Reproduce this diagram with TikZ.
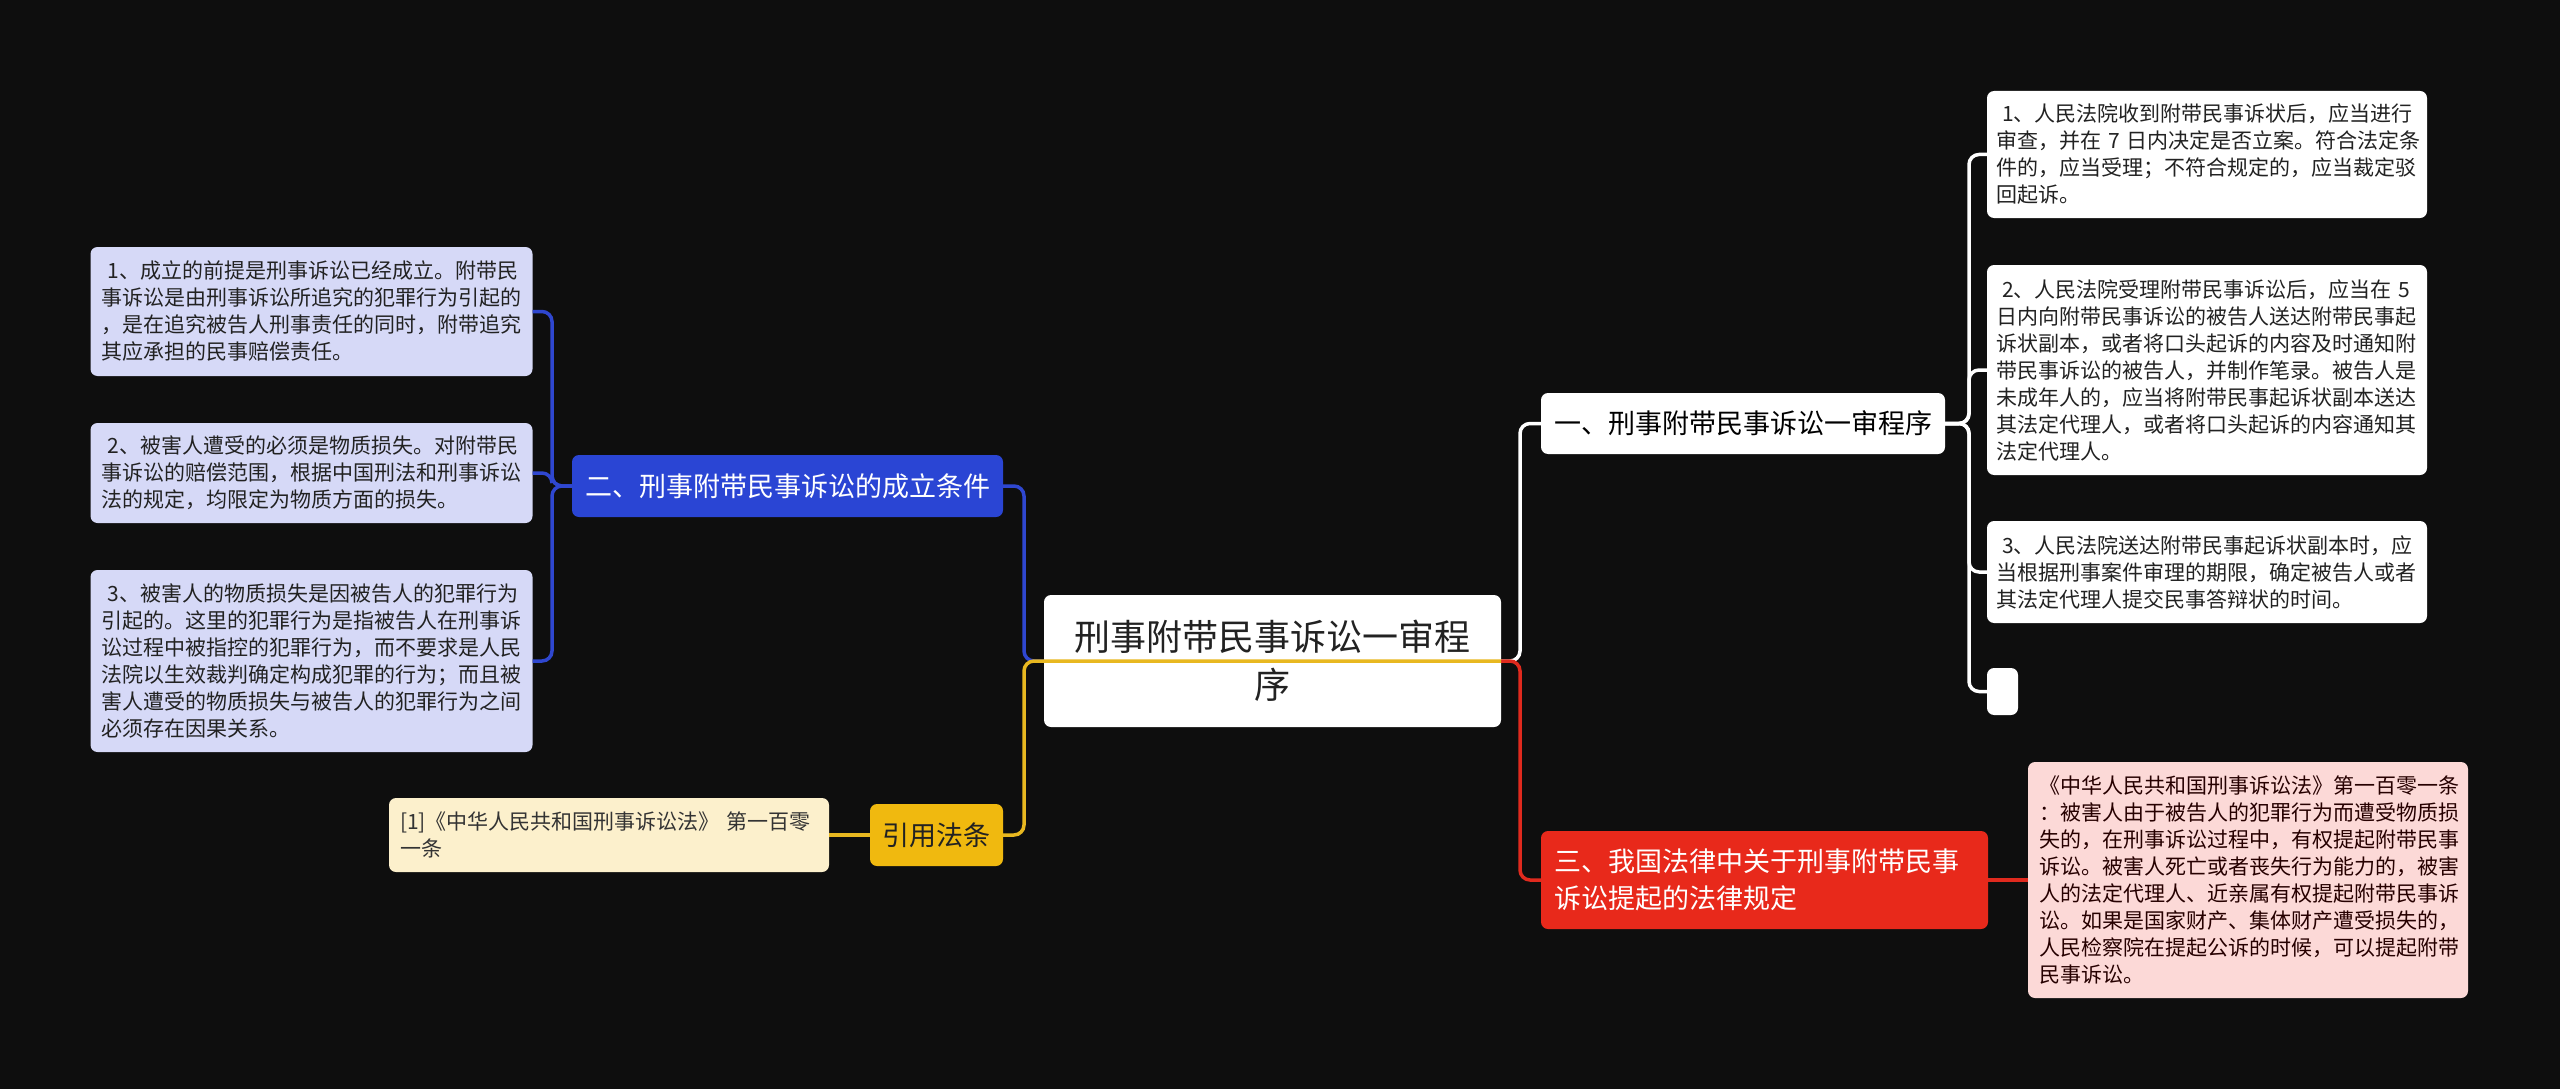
\documentclass[tikz,border=0pt]{standalone}
\usepackage{fontspec}
\setmainfont{Noto Sans CJK SC}
\definecolor{bgc}{HTML}{0E0E0E}
\definecolor{bluen}{HTML}{2A45D4}
\definecolor{bluel}{HTML}{2F47D0}
\definecolor{lav}{HTML}{D6D9F7}
\definecolor{yeln}{HTML}{F0B90F}
\definecolor{yell}{HTML}{E8B820}
\definecolor{citef}{HTML}{FCF0CC}
\definecolor{redn}{HTML}{E8291B}
\definecolor{redl}{HTML}{E02A1E}
\definecolor{pinkf}{HTML}{FCD9D7}
\definecolor{txtd}{HTML}{222222}
\begin{document}
\begin{tikzpicture}[x=1pt,y=-1pt,
  every node/.style={inner sep=0pt, outer sep=0pt},
  card/.style={rectangle, rounded corners=7pt, align=left, inner xsep=11pt,
    font=\fontsize{21}{27}\selectfont, text=txtd},
  topic/.style={rectangle, rounded corners=7pt, align=center,
    font=\fontsize{27}{37}\selectfont},
  conn/.style={line width=3.5pt, rounded corners=10pt},
  bline/.style={conn, draw=bluel},
  yline/.style={conn, draw=yell},
  rline/.style={conn, draw=redl},
  wline/.style={conn, draw=white}]
\fill[bgc] (0,0) rectangle (2560,1089);
\useasboundingbox (0,0) rectangle (2560,1089);

% left detail cards
\node[card, fill=lav, text width=420pt, minimum height=129pt] (L1) at (311.5,311.5)
 {\hspace{0.3em}1、成立的前提是刑事诉讼已经成立。附带民\\事诉讼是由刑事诉讼所追究的犯罪行为引起的\\，是在追究被告人刑事责任的同时，附带追究\\其应承担的民事赔偿责任。};
\node[card, fill=lav, text width=420pt, minimum height=100pt] (L2) at (311.5,473)
 {\hspace{0.3em}2、被害人遭受的必须是物质损失。对附带民\\事诉讼的赔偿范围，根据中国刑法和刑事诉讼\\法的规定，均限定为物质方面的损失。};
\node[card, fill=lav, text width=420pt, minimum height=182pt] (L3) at (311.5,661)
 {\hspace{0.3em}3、被害人的物质损失是因被告人的犯罪行为\\引起的。这里的犯罪行为是指被告人在刑事诉\\讼过程中被指控的犯罪行为，而不要求是人民\\法院以生效裁判确定构成犯罪的行为；而且被\\害人遭受的物质损失与被告人的犯罪行为之间\\必须存在因果关系。};

% cite card
\node[card, fill=citef, text=black!80, text width=418pt, minimum height=74pt] (cite) at (609,835)
 {[1]《中华人民共和国刑事诉讼法》~第一百零\\一条};

% left topics
\node[topic, fill=bluen, text=white, minimum width=431pt, minimum height=62pt] (blue) at (787.5,486)
 {二、刑事附带民事诉讼的成立条件};
\node[topic, fill=yeln, text=txtd, minimum width=133pt, minimum height=62pt] (yel) at (936.5,835)
 {引用法条};

% central
\node[rectangle, rounded corners=7pt, fill=white, text=txtd, align=center,
  minimum width=457pt, minimum height=132pt, font=\fontsize{36}{48}\selectfont] (central) at (1272.5,661)
 {刑事附带民事诉讼一审程\\序};

% right topics
\node[topic, fill=white, text=black, minimum width=404pt, minimum height=61pt] (one) at (1743,423.5)
 {一、刑事附带民事诉讼一审程序};
\node[topic, fill=redn, text=white, align=left, text width=421pt, inner xsep=13pt, minimum height=98pt] (three) at (1764.5,880)
 {三、我国法律中关于刑事附带民事\\诉讼提起的法律规定};

% right detail cards
\node[card, fill=white, text width=422pt, inner xsep=9pt, minimum height=127pt] (R1) at (2207,154.5)
 {\hspace{0.3em}1、人民法院收到附带民事诉状后，应当进行\\审查，并在~7~日内决定是否立案。符合法定条\\件的，应当受理；不符合规定的，应当裁定驳\\回起诉。};
\node[card, fill=white, text width=422pt, inner xsep=9pt, minimum height=210pt] (R2) at (2207,370)
 {\hspace{0.3em}2、人民法院受理附带民事诉讼后，应当在~5\\日内向附带民事诉讼的被告人送达附带民事起\\诉状副本，或者将口头起诉的内容及时通知附\\带民事诉讼的被告人，并制作笔录。被告人是\\未成年人的，应当将附带民事起诉状副本送达\\其法定代理人，或者将口头起诉的内容通知其\\法定代理人。};
\node[card, fill=white, text width=422pt, inner xsep=9pt, minimum height=102pt] (R3) at (2207,572)
 {\hspace{0.3em}3、人民法院送达附带民事起诉状副本时，应\\当根据刑事案件审理的期限，确定被告人或者\\其法定代理人提交民事答辩状的时间。};
\node[rectangle, rounded corners=7pt, fill=white, minimum width=31pt, minimum height=47pt] (R4) at (2002.5,691.5) {};

\node[card, fill=pinkf, text=black!85!red, text width=418pt, minimum height=236pt] (pink) at (2248,880)
 {《中华人民共和国刑事诉讼法》第一百零一条\\：被害人由于被告人的犯罪行为而遭受物质损\\失的，在刑事诉讼过程中，有权提起附带民事\\诉讼。被害人死亡或者丧失行为能力的，被害\\人的法定代理人、近亲属有权提起附带民事诉\\讼。如果是国家财产、集体财产遭受损失的，\\人民检察院在提起公诉的时候，可以提起附带\\民事诉讼。};

% connectors
\draw[bline] (blue.west) -- ++(-20,0) |- (L1.east);
\draw[bline] (blue.west) -- ++(-20,0) |- (L2.east);
\draw[bline] (blue.west) -- ++(-20,0) |- (L3.east);
\draw[bline] (central.west) -- ++(-20,0) |- (blue.east);
\draw[yline] (yel.west) -- (cite.east);
\draw[wline] (central.east) -- ++(19,0) |- (one.west);
\draw[rline] (central.east) -- ++(19,0) |- (three.west);
\draw[rline] (three.east) -- (pink.west);
\draw[wline] (one.east) -- ++(24,0) |- (R1.west);
\draw[wline] (one.east) -- ++(24,0) |- (R2.west);
\draw[wline] (one.east) -- ++(24,0) |- (R3.west);
\draw[wline] (one.east) -- ++(24,0) |- (R4.west);
\draw[yline] (yel.east) -- ++(21,0) |- (central.east);
\end{tikzpicture}
\end{document}
